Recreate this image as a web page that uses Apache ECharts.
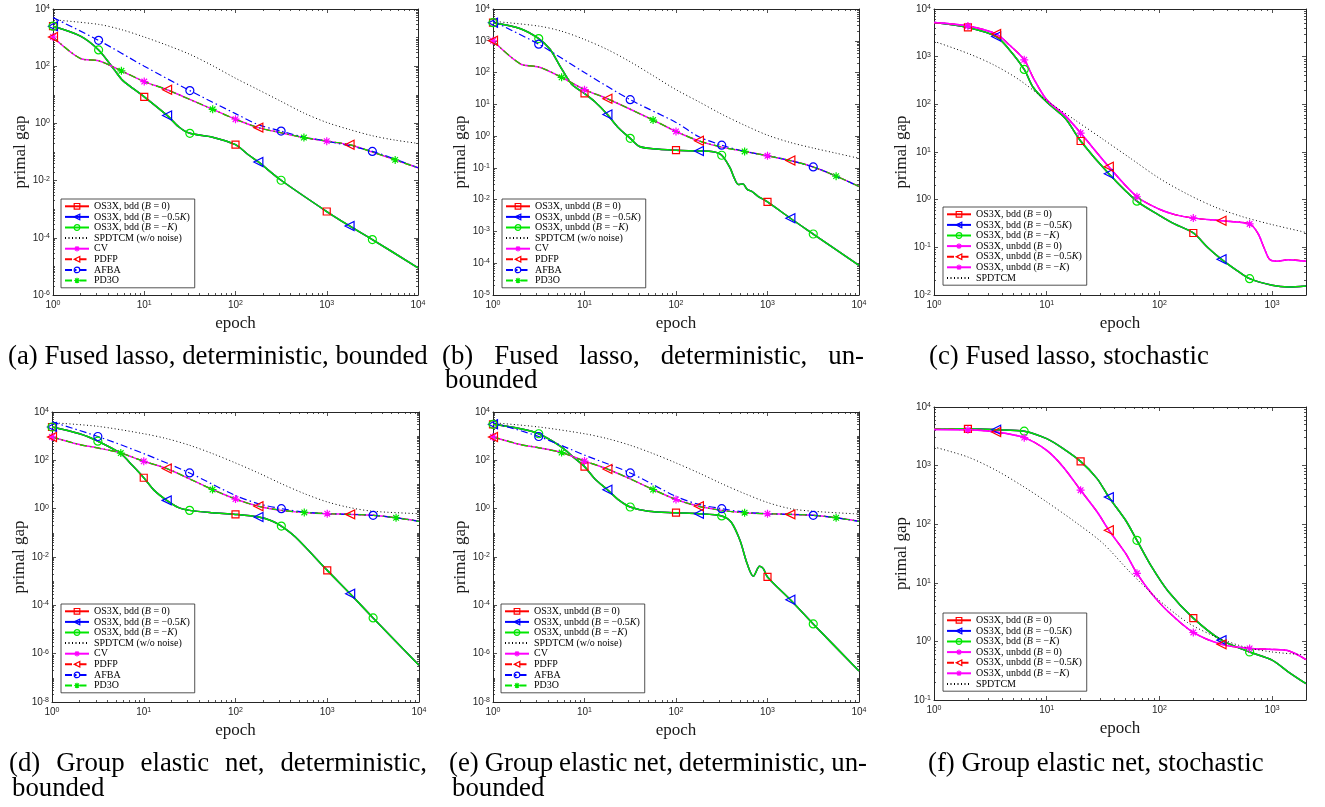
<!DOCTYPE html>
<html>
<head>
<meta charset="utf-8">
<script src="https://cdn.jsdelivr.net/npm/echarts@6/dist/echarts.min.js"></script>
<style>
html, body { margin: 0; padding: 0; background: #fff; }
#main { width: 1325px; height: 807px; }
</style>
</head>
<body>
<div id="main"></div>
<script>
// ---- values: [epoch, primal gap] ----
// (a) fused lasso, deterministic, bounded
const a_os3x = [[1,2500],[2,1130],[3.16,370],[4.7,75],[5.8,32],[10,8.5],[17.8,1.9],[24,0.75],[31.6,0.45],[56,0.33],[100,0.18],[138,0.08],[178,0.045],[316,0.0103],[1000,8.3e-4],[1778,2.6e-4],[3162,8.7e-5],[10000,8.9e-6]];
const a_cv = [[1,1050],[2,186],[3.16,155],[5.62,69],[10,29],[17.8,15],[56.2,3.1],[100,1.4],[178,0.71],[316,0.47],[562,0.32],[1000,0.24],[1778,0.18],[3162,0.1],[5623,0.053],[10000,0.028]];
const a_afba = [[1,5000],[3.16,800],[10,100],[31.6,14],[100,2.2],[178,0.9],[316,0.54],[562,0.33],[1000,0.24],[3162,0.105],[10000,0.028]];
const a_spdtcm = [[1,4200],[3.16,2900],[5.62,1900],[10,1050],[17.8,540],[31.6,260],[56.2,104],[100,38],[178,15],[316,5.9],[562,2.3],[1000,1.08],[1778,0.61],[3162,0.37],[5623,0.26],[10000,0.2]];
// (b) fused lasso, deterministic, unbounded
const b_os3x = [[1,3700],[2,2400],[3.16,1170],[4.2,540],[5.4,160],[7.2,44],[10,22],[13,12],[17.8,4.8],[23,1.95],[31.6,0.85],[40,0.47],[56,0.4],[100,0.36],[178,0.34],[255,0.32],[316,0.25],[390,0.1],[430,0.05],[480,0.03],[540,0.031],[600,0.021],[680,0.018],[780,0.013],[1000,0.0085],[1778,0.0026],[3162,8.3e-4],[10000,8.5e-5]];
const b_cv = [[1,1000],[2,186],[3.16,150],[5.62,71],[10,29],[17.8,15],[56.2,3.2],[100,1.4],[178,0.71],[316,0.45],[562,0.33],[1000,0.24],[1778,0.17],[3162,0.107],[5623,0.055],[10000,0.026]];
const b_afba = [[1,4100],[3.16,780],[10,100],[31.6,14],[100,2.7],[178,0.95],[316,0.52],[562,0.33],[1000,0.24],[1778,0.17],[3162,0.107],[5623,0.055],[10000,0.026]];
const b_spdtcm = [[1,4100],[3.16,2900],[5.62,2000],[10,1100],[17.8,530],[31.6,218],[56.2,80],[100,29],[178,12],[316,4.9],[562,2.2],[1000,1.07],[1778,0.63],[3162,0.42],[5623,0.29],[10000,0.2]];
// (c) fused lasso, stochastic
const c_bdd = [[1,5200],[2,4100],[3.56,2650],[4.7,1370],[6.32,540],[7.6,225],[10,112],[14.6,51],[20,17],[35.6,3.5],[63.2,0.93],[100,0.47],[136,0.31],[200,0.2],[270,0.098],[356,0.056],[485,0.033],[632,0.022],[1000,0.016],[1400,0.0147],[2000,0.0155]];
const c_unbdd = [[1,5200],[2,4400],[3.56,3000],[4.7,1730],[6.32,860],[7.6,360],[10,125],[14.6,58],[20,25],[35.6,4.9],[63.2,1.15],[100,0.63],[140,0.48],[200,0.41],[356,0.36],[632,0.31],[750,0.195],[850,0.097],[950,0.056],[1100,0.051],[1400,0.055],[2000,0.051]];
const c_spdtcm = [[1,2100],[2,1170],[3.36,680],[5.62,335],[10,120],[17.8,47],[31.6,18.5],[56.2,7.2],[100,2.8],[178,1.3],[316,0.69],[562,0.43],[1000,0.3],[2000,0.205]];
// (d) group elastic net, deterministic, bounded
const d_os3x = [[1,2400],[2,1260],[3.16,620],[5.62,190],[7.5,62],[10,19],[13,5.7],[17.8,2.2],[24,1.1],[31.6,0.85],[56,0.68],[100,0.58],[178,0.45],[250,0.31],[316,0.19],[450,0.067],[1000,0.0028],[1778,3.0e-4],[3162,3.0e-5],[10000,3.3e-7]];
const d_cv = [[1,930],[2,450],[3.16,325],[5.62,200],[10,91],[17.8,46],[31.6,17],[56.2,6.2],[100,2.5],[178,1.26],[316,0.85],[562,0.7],[1000,0.62],[1778,0.58],[3162,0.53],[5623,0.42],[10000,0.3]];
const d_afba = [[1,3900],[3.16,970],[10,190],[31.6,30],[100,3.5],[178,1.6],[316,1.0],[562,0.72],[1000,0.62],[1778,0.58],[3162,0.53],[5623,0.42],[10000,0.3]];
const d_spdtcm = [[1,3600],[3.16,2550],[10,1260],[17.8,790],[31.6,420],[56.2,190],[100,78],[178,30],[316,10.8],[562,4.2],[1000,1.9],[1778,1.1],[3162,0.78],[10000,0.62]];
// (e) group elastic net, deterministic, unbounded
const e_os3x = [[1,3100],[2,2040],[3.16,1260],[5.62,355],[7.5,138],[10,55],[13,17],[17.8,6.1],[24,2.2],[31.6,1.17],[50,0.78],[100,0.68],[178,0.62],[316,0.5],[400,0.28],[500,0.049],[600,0.0052],[700,0.0016],[820,0.0041],[900,0.0033],[1000,0.0015],[1778,1.7e-4],[3162,1.7e-5],[10000,1.9e-7]];
const e_cv = [[1,930],[2,450],[3.16,330],[5.62,210],[10,93],[17.8,44],[31.6,17],[56.2,6.2],[100,2.4],[178,1.25],[316,0.85],[562,0.68],[1000,0.62],[1778,0.58],[3162,0.53],[5623,0.42],[10000,0.3]];
const e_afba = [[1,3600],[3.16,970],[10,165],[31.6,30],[100,3.2],[178,1.5],[316,1.0],[562,0.72],[1000,0.62],[1778,0.58],[3162,0.53],[5623,0.42],[10000,0.3]];
const e_spdtcm = [[1,3600],[3.16,2400],[10,1260],[17.8,790],[31.6,420],[56.2,190],[100,78],[178,30],[316,10.8],[562,4.2],[1000,1.8],[1778,1.0],[3162,0.78],[10000,0.6]];
// (f) group elastic net, stochastic
const f_bdd = [[1,4250],[2,4250],[3.56,4100],[6.32,3870],[10,2880],[14,1950],[20,1180],[28,600],[35.6,290],[50,118],[63.2,53],[85,19],[120,7.1],[200,2.5],[356,1.05],[632,0.66],[1000,0.48],[1400,0.3],[2000,0.19]];
const f_unbdd = [[1,4150],[2,4100],[3.56,3740],[6.32,3000],[10,1820],[14,950],[20,380],[28,163],[35.6,79],[50,32],[63.2,14.5],[85,6.6],[120,3.2],[200,1.42],[356,0.89],[632,0.76],[1000,0.73],[1400,0.69],[2000,0.49]];
const f_spdtcm = [[1,2080],[2,1400],[3.56,830],[6.32,430],[10,240],[17.8,110],[31.6,47],[56.2,14.5],[100,5],[178,2.1],[316,1.2],[562,0.81],[1000,0.66],[2000,0.59]];

// epochs that carry a marker
const detSquare = [1, 10, 100, 1000];
const detTriangle = [1, 17.8, 178, 1778];
const detCircle = [1, 3.16, 31.6, 316, 3162];
const detCV = [1, 10, 100, 1000];
const detPDFP = [1, 17.8, 178, 1778];
const detAFBA = [3.16, 31.6, 316, 3162];
const detPD3O = [5.62, 56.2, 562, 5623];
const stoSquare = [2, 20, 200];
const stoTriangle = [3.56, 35.6, 356];
const stoCircle = [6.32, 63.2, 632];

// axis ranges of each panel
const xRanges = [[1, 1e4], [1, 1e4], [1, 2000], [1, 1e4], [1, 1e4], [1, 2000]];
const yRanges = [[1e-6, 1e4], [1e-5, 1e4], [1e-2, 1e4], [1e-8, 1e4], [1e-8, 1e4], [1e-1, 1e4]];
const yLabelStep = [2, 1, 1, 2, 2, 1];

const captions = [
	{ words: ['(a)', 'Fused', 'lasso,', 'deterministic,', 'bounded'], x0: 8, y: 357 },
	{ words: ['(b)', 'Fused', 'lasso,', 'deterministic,', 'un-'], x0: 442, x1: 864, y: 357 },
	{ words: ['bounded'], x0: 445, y: 381 },
	{ words: ['(c)', 'Fused', 'lasso,', 'stochastic'], x0: 929, y: 357 },
	{ words: ['(d)', 'Group', 'elastic', 'net,', 'deterministic,'], x0: 9, x1: 427, y: 764 },
	{ words: ['bounded'], x0: 12, y: 789 },
	{ words: ['(e)', 'Group', 'elastic', 'net,', 'deterministic,', 'un-'], x0: 449, x1: 867, y: 764 },
	{ words: ['bounded'], x0: 452, y: 789 },
	{ words: ['(f)', 'Group', 'elastic', 'net,', 'stochastic'], x0: 928, y: 764 }
];

// ---- layout / style ----
const grids = [
	{ left: 53, top: 6, width: 365, height: 289 },
	{ left: 493, top: 6, width: 366, height: 289 },
	{ left: 934, top: 1, width: 372, height: 294 },
	{ left: 52, top: 412, width: 367, height: 290 },
	{ left: 493, top: 412, width: 366, height: 290 },
	{ left: 934, top: 407, width: 372, height: 293 }
];
const legendPos = [[61, 199], [502, 199], [943, 207], [61, 604], [501, 604], [943, 613]];

const AXIS_COLOR = '#262626';
const RED = '#ff0000', BLUE = '#0000ff', GREEN = '#00e600', MAGENTA = '#ff00ff';
const STAR = 'path://M5,0L5,10M0,5L10,5M1.5,1.5L8.5,8.5M1.5,8.5L8.5,1.5';
const DASHDOT = [7, 3, 1.5, 3];
const DOTTED = [1, 2.5];
const CAP_FONT = '26.8px "Liberation Serif"';

const styles = {
	square: { color: RED, dash: 'solid', width: 1.5, symbol: 'rect', size: 7, rotate: 0 },
	triangle: { color: BLUE, dash: 'solid', width: 1.5, symbol: 'triangle', size: 9, rotate: 90 },
	circle: { color: GREEN, dash: 'solid', width: 1.5, symbol: 'circle', size: 8, rotate: 0 },
	spdtcm: { color: '#000', dash: DOTTED, width: 1, symbol: 'none', size: 0, rotate: 0 },
	cv: { color: MAGENTA, dash: 'solid', width: 1.5, symbol: STAR, size: 8, rotate: 0 },
	pdfp: { color: RED, dash: DASHDOT, width: 1.2, symbol: 'triangle', size: 9, rotate: 90 },
	afba: { color: BLUE, dash: DASHDOT, width: 1.2, symbol: 'circle', size: 8, rotate: 0 },
	pd3o: { color: GREEN, dash: DASHDOT, width: 1.2, symbol: STAR, size: 8, rotate: 0 },
	unbddStar: { color: MAGENTA, dash: 'solid', width: 1.5, symbol: STAR, size: 8, rotate: 0 },
	unbddTri: { color: RED, dash: DASHDOT, width: 1.2, symbol: 'triangle', size: 9, rotate: 90 }
};

function makeSeries(gi, name, data, marks, st) {
	return {
		type: 'line',
		name: name,
		xAxisIndex: gi * 5,
		yAxisIndex: gi * 5,
		data: data.map(p => marks.indexOf(p[0]) >= 0 ? { value: p } : { value: p, symbol: 'none' }),
		symbol: st.symbol,
		symbolSize: st.size,
		symbolRotate: st.rotate,
		showSymbol: true,
		smooth: 0.3,
		clip: true,
		itemStyle: { color: 'none', borderColor: st.symbol === 'none' ? 'none' : st.color, borderWidth: st.symbol === 'none' ? 0 : 1.2 },
		lineStyle: { color: st.color, width: st.width, type: st.dash },
		emphasis: { disabled: true },
		animation: false
	};
}

function detPanel(gi, lab, os3x, cv, afba, spd) {
	return [
		makeSeries(gi, 'OS3X, ' + lab + ' (B = 0)', os3x, detSquare, styles.square),
		makeSeries(gi, 'OS3X, ' + lab + ' (B = \u22120.5K)', os3x, detTriangle, styles.triangle),
		makeSeries(gi, 'OS3X, ' + lab + ' (B = \u2212K)', os3x, detCircle, styles.circle),
		makeSeries(gi, 'SPDTCM (w/o noise)', spd, [], styles.spdtcm),
		makeSeries(gi, 'CV', cv, detCV, styles.cv),
		makeSeries(gi, 'PDFP', cv, detPDFP, styles.pdfp),
		makeSeries(gi, 'AFBA', afba, detAFBA, styles.afba),
		makeSeries(gi, 'PD3O', cv, detPD3O, styles.pd3o)
	];
}

// trailing space keeps the stochastic unbdd names apart from the deterministic ones
function stoPanel(gi, bdd, unbdd, spd) {
	return [
		makeSeries(gi, 'OS3X, bdd (B = 0)', bdd, stoSquare, styles.square),
		makeSeries(gi, 'OS3X, bdd (B = \u22120.5K)', bdd, stoTriangle, styles.triangle),
		makeSeries(gi, 'OS3X, bdd (B = \u2212K)', bdd, stoCircle, styles.circle),
		makeSeries(gi, 'OS3X, unbdd (B = 0) ', unbdd, stoSquare, styles.unbddStar),
		makeSeries(gi, 'OS3X, unbdd (B = \u22120.5K) ', unbdd, stoTriangle, styles.unbddTri),
		makeSeries(gi, 'OS3X, unbdd (B = \u2212K) ', unbdd, stoCircle, styles.unbddStar),
		makeSeries(gi, 'SPDTCM', spd, [], styles.spdtcm)
	];
}

const series = [].concat(
	detPanel(0, 'bdd', a_os3x, a_cv, a_afba, a_spdtcm),
	detPanel(1, 'unbdd', b_os3x, b_cv, b_afba, b_spdtcm),
	stoPanel(2, c_bdd, c_unbdd, c_spdtcm),
	detPanel(3, 'bdd', d_os3x, d_cv, d_afba, d_spdtcm),
	detPanel(4, 'unbdd', e_os3x, e_cv, e_afba, e_spdtcm),
	stoPanel(5, f_bdd, f_unbdd, f_spdtcm)
);

// ---- axes: a hidden log axis carries the data, value axes in log10 space draw the box, ticks and labels ----
const decadeTicks = (lo, hi, step) => {
	const out = [];
	for (let e = Math.ceil(lo - 1e-9); e <= hi + 1e-9; e++) if (e % step === 0) out.push(e);
	return out;
};
const minorTicks = (lo, hi, step) => {
	const out = [];
	for (let e = Math.floor(lo); e < hi; e++) {
		if (step > 1 && e % step !== 0 && e >= lo) out.push(e);
		for (let k = 2; k <= 9; k++) {
			const v = e + Math.log10(k);
			if (v >= lo - 1e-9 && v <= hi + 1e-9) out.push(v);
		}
	}
	return out;
};
const expLabel = v => '{b|10}{s|' + Math.round(v) + '}';
const labelRich = {
	b: { fontFamily: 'Liberation Sans', fontSize: 10, color: AXIS_COLOR, lineHeight: 11, padding: [4, 0, 4, 0], verticalAlign: 'middle' },
	s: { fontFamily: 'Liberation Sans', fontSize: 7, color: AXIS_COLOR, lineHeight: 8, verticalAlign: 'top' }
};
const nameStyle = { fontFamily: 'Liberation Serif', fontSize: 17, color: '#1a1a1a' };

function decoAxis(gi, lo, hi, position, ticks, len, boxLine) {
	return {
		type: 'value',
		gridIndex: gi,
		min: lo,
		max: hi,
		position: position,
		axisLine: { show: boxLine, onZero: false, lineStyle: { color: AXIS_COLOR, width: 1 } },
		axisTick: { show: true, inside: true, length: len, customValues: ticks, lineStyle: { color: AXIS_COLOR, width: 0.8 } },
		axisLabel: { show: false },
		splitLine: { show: false }
	};
}

let xAxis = [], yAxis = [];
grids.forEach((g, gi) => {
	const xr = xRanges[gi], yr = yRanges[gi];
	const xlo = Math.log10(xr[0]), xhi = Math.log10(xr[1]);
	const ylo = Math.log10(yr[0]), yhi = Math.log10(yr[1]);
	const ys = yLabelStep[gi];

	let xMain = decoAxis(gi, xlo, xhi, 'bottom', decadeTicks(xlo, xhi, 1), 4, true);
	xMain.axisLabel = { show: true, customValues: decadeTicks(xlo, xhi, 1), formatter: expLabel, margin: 5, rich: labelRich };
	xMain.name = 'epoch';
	xMain.nameLocation = 'middle';
	xMain.nameGap = 19;
	xMain.nameTextStyle = nameStyle;
	xAxis.push(
		{ type: 'log', logBase: 10, gridIndex: gi, min: xr[0], max: xr[1], show: false },
		xMain,
		decoAxis(gi, xlo, xhi, 'bottom', minorTicks(xlo, xhi, 1), 2, false),
		decoAxis(gi, xlo, xhi, 'top', decadeTicks(xlo, xhi, 1), 4, true),
		decoAxis(gi, xlo, xhi, 'top', minorTicks(xlo, xhi, 1), 2, false)
	);

	let yMain = decoAxis(gi, ylo, yhi, 'left', decadeTicks(ylo, yhi, ys), 4, true);
	yMain.axisLabel = { show: true, customValues: decadeTicks(ylo, yhi, ys), formatter: expLabel, margin: 3, rich: labelRich };
	yMain.name = 'primal gap';
	yMain.nameLocation = 'middle';
	yMain.nameGap = 22;
	yMain.nameRotate = 90;
	yMain.nameTextStyle = nameStyle;
	yAxis.push(
		{ type: 'log', logBase: 10, gridIndex: gi, min: yr[0], max: yr[1], show: false },
		yMain,
		decoAxis(gi, ylo, yhi, 'left', minorTicks(ylo, yhi, ys), 2, false),
		decoAxis(gi, ylo, yhi, 'right', decadeTicks(ylo, yhi, ys), 4, true),
		decoAxis(gi, ylo, yhi, 'right', minorTicks(ylo, yhi, ys), 2, false)
	);
});

// ---- legends ----
const legendFormatter = name => name.trim().replace(/\(([^)]*)\)/, (m, inner) => '(' + inner.replace(/([BK])/g, '{i|$1}') + ')');
const legends = grids.map((g, gi) => ({
	orient: 'vertical',
	left: legendPos[gi][0],
	top: legendPos[gi][1],
	data: series.filter(s => s.xAxisIndex === gi * 5).map(s => s.name),
	itemWidth: 24,
	itemHeight: 7,
	itemGap: 0,
	padding: [2, 5, 2, 3],
	backgroundColor: '#fff',
	borderColor: AXIS_COLOR,
	borderWidth: 0.8,
	borderRadius: 0,
	selectedMode: false,
	itemStyle: { borderWidth: 1.2 },
	formatter: legendFormatter,
	textStyle: {
		fontFamily: 'Liberation Serif', fontSize: 10, color: '#000', lineHeight: 10.6,
		rich: { i: { fontFamily: 'Liberation Serif', fontStyle: 'italic', fontSize: 10, color: '#000', lineHeight: 10.6 } }
	}
}));

// ---- captions (justified lines spread to their measured width) ----
const ctx = document.createElement('canvas').getContext('2d');
ctx.font = CAP_FONT;
let graphic = [];
captions.forEach(c => {
	const widths = c.words.map(w => ctx.measureText(w).width);
	const total = widths.reduce((s, w) => s + w, 0);
	const gap = c.x1 ? (c.x1 - c.x0 - total) / (c.words.length - 1) : ctx.measureText(' ').width;
	let x = c.x0;
	c.words.forEach((w, i) => {
		graphic.push({ type: 'text', x: x, y: c.y, style: { text: w, font: CAP_FONT, fill: '#000', verticalAlign: 'middle' } });
		x += widths[i] + gap;
	});
});

let chart = echarts.init(document.getElementById('main'));
chart.setOption({
	backgroundColor: '#fff',
	animation: false,
	grid: grids,
	xAxis: xAxis,
	yAxis: yAxis,
	legend: legends,
	series: series,
	graphic: graphic
});
</script>
</body>
</html>
